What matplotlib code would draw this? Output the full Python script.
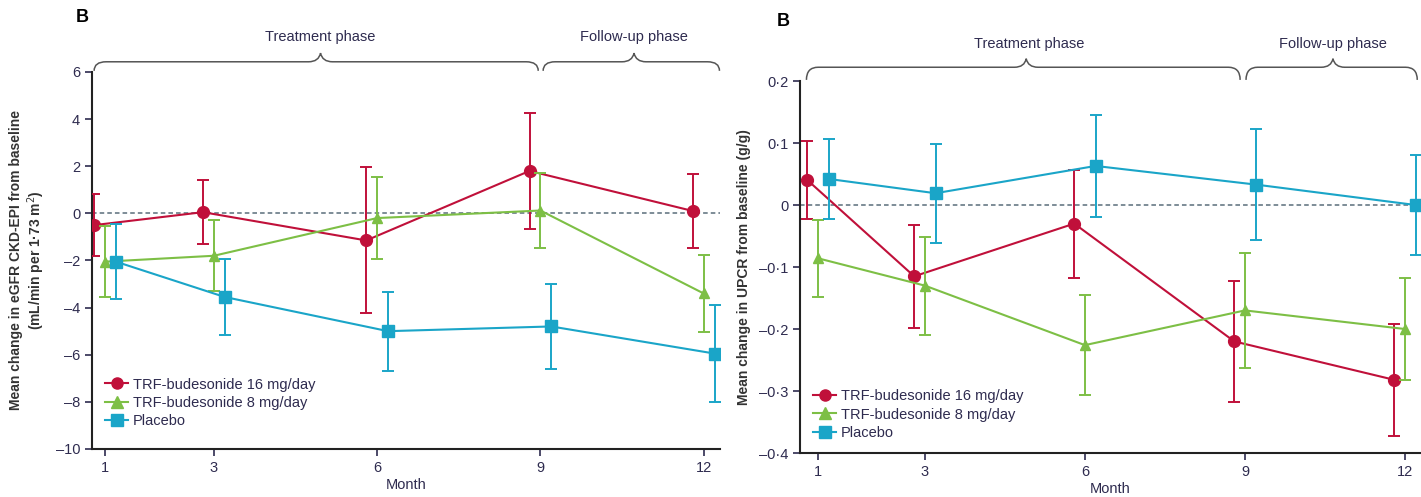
import matplotlib
matplotlib.use("Agg")
import matplotlib.pyplot as plt
import numpy as np
from matplotlib.path import Path
from matplotlib.patches import PathPatch
from matplotlib.lines import Line2D

plt.rcParams['font.family'] = ['Liberation Sans', 'DejaVu Sans']

# Data
months = [1, 3, 6, 9, 12]
series_names = ["TRF-budesonide 16 mg/day", "TRF-budesonide 8 mg/day", "Placebo"]

egfr_16 = [-0.5, 0.05, -1.15, 1.8, 0.1]
egfr_16_err = [1.3, 1.35, 3.1, 2.45, 1.55]
egfr_8 = [-2.05, -1.8, -0.2, 0.12, -3.4]
egfr_8_err = [1.5, 1.5, 1.75, 1.6, 1.65]
egfr_pl = [-2.05, -3.55, -5.0, -4.8, -5.95]
egfr_pl_err = [1.6, 1.6, 1.68, 1.8, 2.05]

upcr_16 = [0.04, -0.115, -0.03, -0.22, -0.282]
upcr_16_err = [0.063, 0.083, 0.087, 0.098, 0.09]
upcr_8 = [-0.086, -0.13, -0.226, -0.17, -0.2]
upcr_8_err = [0.062, 0.079, 0.081, 0.093, 0.083]
upcr_pl = [0.042, 0.019, 0.063, 0.033, 0.0]
upcr_pl_err = [0.064, 0.08, 0.082, 0.09, 0.08]

egfr_ticks = [6, 4, 2, 0, -2, -4, -6, -8, -10]
egfr_ticklabels = ["6", "4", "2", "0", "\u20132", "\u20134", "\u20136", "\u20138", "\u201310"]
upcr_ticks = [0.2, 0.1, 0, -0.1, -0.2, -0.3, -0.4]
upcr_ticklabels = ["0\u00b72", "0\u00b71", "0", "\u20130\u00b71", "\u20130\u00b72", "\u20130\u00b73", "\u20130\u00b74"]

# Styles
colors = ["#C0103A", "#7DBF45", "#1AA5C8"]
markers = ["o", "^", "s"]
dodge = [-0.2, 0.0, 0.2]
text_col = "#2E2B4F"
fs = 10.5


def brace(ax, x0, x1, xm, yb, yl, yp, d=0.22):
    verts = [(x0, yb), (x0, yl), (x0 + d, yl),
             (xm - d, yl), (xm - d * 0.15, yl), (xm, yp),
             (xm + d * 0.15, yl), (xm + d, yl),
             (x1 - d, yl), (x1, yl), (x1, yb)]
    codes = [Path.MOVETO, Path.CURVE3, Path.CURVE3,
             Path.LINETO, Path.CURVE3, Path.CURVE3,
             Path.CURVE3, Path.CURVE3,
             Path.LINETO, Path.CURVE3, Path.CURVE3]
    p = PathPatch(Path(verts, codes), transform=ax.get_xaxis_transform(),
                  fill=False, edgecolor="#555555", lw=1.1, clip_on=False)
    ax.add_patch(p)


def panel(ax, data, ylim, ticks, ticklabels, ylabel, xlim, legend_y):
    x = np.array(months, dtype=float)
    for i, (vals, errs) in enumerate(data):
        ax.errorbar(x + dodge[i], vals, yerr=errs, color=colors[i], marker=markers[i],
                    markersize=8.5 if i != 1 else 7, lw=1.5, elinewidth=1.4, capsize=4,
                    capthick=1.4, zorder=3 + i)
    ax.axhline(0, color="#5A6E7A", ls=(0, (3, 2)), lw=1.1, zorder=1)
    ax.set_ylim(*ylim)
    ax.set_xlim(*xlim)
    ax.set_yticks(ticks)
    ax.set_yticklabels(ticklabels)
    ax.set_xticks(months)
    ax.spines['top'].set_visible(False)
    ax.spines['right'].set_visible(False)
    for s in ['left', 'bottom']:
        ax.spines[s].set_linewidth(1.5)
        ax.spines[s].set_color("#222222")
    ax.tick_params(labelsize=fs, colors=text_col, length=5, width=1.2)
    ax.set_xlabel("Month", fontsize=fs, color=text_col, labelpad=2)
    ax.set_ylabel(ylabel, fontsize=10, fontweight="bold", color="#333333", labelpad=6)
    handles = [Line2D([], [], color=colors[i], marker=markers[i], markersize=8, lw=1.5)
               for i in range(3)]
    ax.legend(handles, series_names, loc="lower left", bbox_to_anchor=(0.0, legend_y),
              frameon=False, fontsize=fs, handlelength=1.6, handletextpad=0.3,
              labelspacing=0.3, labelcolor=text_col)


fig = plt.figure(figsize=(14.21, 4.97), dpi=100)

ax1 = fig.add_axes([0.0647, 0.0966, 0.442, 0.7586])
panel(ax1, [(egfr_16, egfr_16_err), (egfr_8, egfr_8_err), (egfr_pl, egfr_pl_err)],
      (-10, 6), egfr_ticks, egfr_ticklabels,
      "Mean change in eGFR CKD-EPI from baseline\n(mL/min per 1\u00b773 m$^{2}$)",
      (0.76, 12.3), 0.02)
brace(ax1, 0.8, 8.96, 4.96, 1.003, 1.027, 1.05)
brace(ax1, 9.05, 12.29, 10.72, 1.003, 1.027, 1.05)
ax1.text(4.96, 1.093, "Treatment phase", transform=ax1.get_xaxis_transform(),
         ha="center", va="center", fontsize=fs, color=text_col)
ax1.text(10.72, 1.093, "Follow-up phase", transform=ax1.get_xaxis_transform(),
         ha="center", va="center", fontsize=fs, color=text_col)

ax2 = fig.add_axes([0.563, 0.0885, 0.437, 0.7485])
panel(ax2, [(upcr_16, upcr_16_err), (upcr_8, upcr_8_err), (upcr_pl, upcr_pl_err)],
      (-0.4, 0.2), upcr_ticks, upcr_ticklabels,
      "Mean change in UPCR from baseline (g/g)",
      (0.66, 12.3), 0.0)
brace(ax2, 0.78, 8.91, 4.9, 1.003, 1.037, 1.06)
brace(ax2, 9.02, 12.23, 10.65, 1.003, 1.037, 1.06)
ax2.text(4.95, 1.1, "Treatment phase", transform=ax2.get_xaxis_transform(),
         ha="center", va="center", fontsize=fs, color=text_col)
ax2.text(10.65, 1.1, "Follow-up phase", transform=ax2.get_xaxis_transform(),
         ha="center", va="center", fontsize=fs, color=text_col)

fig.text(82 / 1421, 1 - 18 / 497, "B", fontsize=13, fontweight="bold", ha="center", va="center")
fig.text(783 / 1421, 1 - 22 / 497, "B", fontsize=13, fontweight="bold", ha="center", va="center")

fig.savefig("out.png", dpi=100)
